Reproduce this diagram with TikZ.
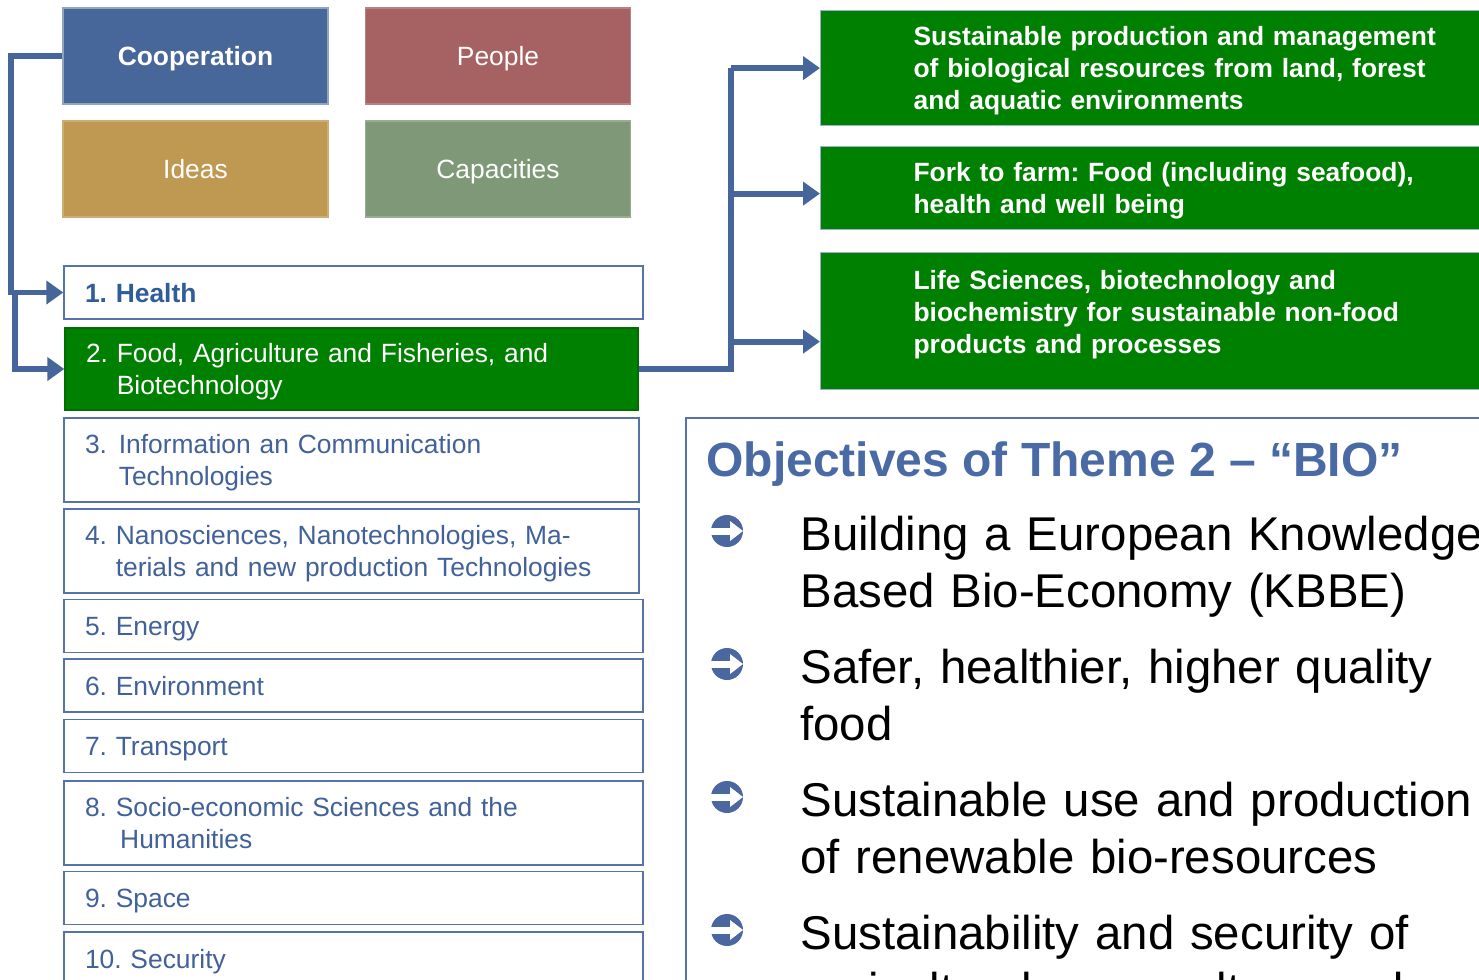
\documentclass[tikz,border=0pt]{standalone}
\usepackage{fontspec}
\setmainfont{Liberation Sans}
\frenchspacing
\usetikzlibrary{arrows.meta}

\definecolor{linkblue}{HTML}{46659B}
\definecolor{coopblue}{HTML}{476699}
\definecolor{peoplered}{HTML}{A66163}
\definecolor{ideasgold}{HTML}{BF9952}
\definecolor{capgreen}{HTML}{7F9877}
\definecolor{themegreen}{HTML}{008000}
\definecolor{topictext}{HTML}{41619A}
\definecolor{healthblue}{HTML}{2F5D98}
\definecolor{topicframe}{HTML}{5573A8}
\definecolor{actframe}{HTML}{9DB0CF}
\definecolor{titleblue}{HTML}{4A6AA5}
\definecolor{bulletblue}{HTML}{4A67A0}

\begin{document}
\begin{tikzpicture}[x=0.5pt,y=-0.5pt,
    pillar/.style={minimum width=132.5pt, minimum height=48pt, inner sep=0pt, text=white, line width=0.6pt, text height=9.5pt, text depth=0pt, font=\fontsize{13.2}{16}\selectfont},
    topic/.style={draw=topicframe, line width=0.7pt, fill=white, text=topictext, align=left, inner xsep=10.5pt, inner ysep=0pt, text height=9.5pt, text depth=0pt, font=\fontsize{13.2}{16}\selectfont},
    twolines/.style={text depth=16pt},
    activity/.style={draw=actframe, line width=0.6pt, fill=themegreen, text=white, align=left, text width=280pt, inner xsep=46.5pt, inner ysep=0pt, anchor=north west, text height=9.5pt, font=\bfseries\fontsize{13.2}{16}\selectfont},
    objtext/.style={anchor=base west, inner sep=0pt, text width=400pt, align=left, font=\fontsize{23.7}{28.75}\selectfont},
    link/.style={draw=linkblue, line width=2.9pt},
    linkarrow/.style={-{Triangle[length=8.5pt,width=11.5pt]}}
  ]
    \useasboundingbox (0,0) rectangle (1479,980);
    \clip (0,0) rectangle (1479,980);

    % pillars
    \node[pillar, fill=coopblue, draw=coopblue!60!white, font=\bfseries\fontsize{13.2}{16}\selectfont] (coop) at (195.5,56) {Cooperation};
    \node[pillar, fill=peoplered, draw=peoplered!80!white] (people) at (498,56) {People};
    \node[pillar, fill=ideasgold, draw=ideasgold!80!white] (ideas) at (195.5,169) {Ideas};
    \node[pillar, fill=capgreen, draw=capgreen!80!white] (capac) at (498,169) {Capacities};

    % themes
    \node[topic, text width=268.5pt, minimum height=26.5pt, text=healthblue, font=\bfseries\fontsize{13.2}{16}\selectfont] (t1) at (353.5,292.5) {1. Health};
    \node[topic, twolines, draw=themegreen!85!black, fill=themegreen, text=white, text width=265.5pt, minimum height=41pt] (t2) at (351.5,369) {2.~Food, Agriculture and Fisheries, and\\\phantom{2.~}Biotechnology};
    \node[topic, twolines, text width=266.5pt, minimum height=42pt] (t3) at (351.5,460) {3.~\hspace{1.5pt}Information an Communication\\\phantom{3.~}\hspace{1.5pt}Technologies};
    \node[topic, twolines, text width=266.5pt, minimum height=42pt] (t4) at (351.5,551) {4.~Nanosciences, Nanotechnologies, Ma-\\\phantom{4.~}terials and new production Technologies};
    \node[topic, text width=268.5pt, minimum height=26.5pt] (t5) at (353.5,626) {5. Energy};
    \node[topic, text width=268.5pt, minimum height=26.5pt] (t6) at (353.5,685.5) {6. Environment};
    \node[topic, text width=268.5pt, minimum height=26.5pt] (t7) at (353.5,746) {7. Transport};
    \node[topic, twolines, text width=268.5pt, minimum height=42pt] (t8) at (353.5,823) {8.~Socio-economic Sciences and the\\\phantom{8.~}\,Humanities};
    \node[topic, text width=268.5pt, minimum height=26.5pt] (t9) at (353.5,898) {9. Space};
    \node[topic, text width=268.5pt, minimum height=26.5pt] (t10) at (353.5,958.5) {10. Security};

    % activities of theme 2
    \node[activity, minimum height=57.5pt, text depth=32pt] (a1) at (820,10) {Sustainable production and management\\of biological resources from land, forest\\and aquatic environments};
    \node[activity, minimum height=41.5pt, text depth=16pt] (a2) at (820,146) {Fork to farm: Food (including seafood),\\health and well being};
    \node[activity, minimum height=68.5pt, text depth=41.5pt] (a3) at (820,252) {Life Sciences, biotechnology and\\biochemistry for sustainable non-food\\products and processes};

    % connectors
    \coordinate (split) at (15,292.5);
    \coordinate (hub) at (731,369);
    \draw[link, linkarrow] (coop.west) -- (11,56) |- (t1.west);
    \draw[link, linkarrow] (split) |- (t2.west);
    \draw[link] (t2.east) -- (hub) -- (hub |- a1.west);
    \draw[link, linkarrow] (hub |- a1.west) -- (a1.west);
    \draw[link, linkarrow] ([yshift=-2.75pt]hub |- a2.west) -- ([yshift=-2.75pt]a2.west);
    \draw[link, linkarrow] ([yshift=-10.25pt]hub |- a3.west) -- ([yshift=-10.25pt]a3.west);

    % objectives
    \node[draw=topicframe, line width=1pt, fill=white, anchor=north west, minimum width=500pt, minimum height=320pt, inner sep=0pt] (panel) at (685,417) {};
    \node[anchor=base west, inner sep=0pt, text=titleblue, font=\bfseries\fontsize{24}{28}\selectfont] (title) at (706,476) {Objectives of Theme 2 – “BIO”};
    \node[objtext] (o1) at (800,550) {Building a European Knowledge\\Based Bio-Economy (KBBE)};
    \node[objtext] (o2) at (800,683) {Safer, healthier, higher quality\\food};
    \node[objtext] (o3) at (800,816) {Sustainable use and production\\of renewable bio-resources};
    \node[objtext] (o4) at (800,949) {Sustainability and security of\\agricultural, aquaculture and};
    \foreach \yb in {531,664,797,930} {
      \begin{scope}[shift={(727,\yb)}]
        \fill[bulletblue] (0,0) circle (8pt);
        \fill[white] (-18,-3.5) rectangle (4,3.5);
        \fill[white] (3,-10) -- (16,0) -- (3,10) -- cycle;
      \end{scope}
    }
\end{tikzpicture}
\end{document}
